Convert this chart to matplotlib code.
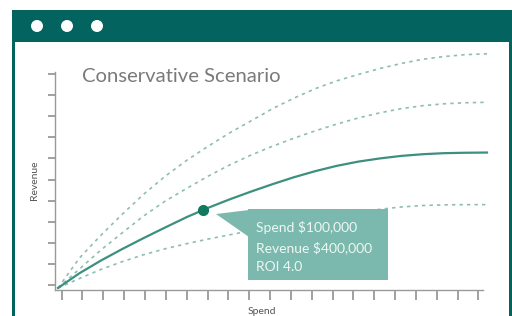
import numpy as np
import matplotlib
matplotlib.use("Agg")
import matplotlib.pyplot as plt
from matplotlib.patches import Rectangle, Circle, Polygon

# curves (spend units, revenue units)
spend = list(range(21))
rev_high = [0, 1.42, 2.5, 3.5, 4.45, 5.3, 6.05, 6.72, 7.35, 7.92, 8.5,
            9.0, 9.45, 9.82, 10.12, 10.4, 10.64, 10.84, 10.97, 11.06, 11.1]
rev_mid = [0, 0.9, 1.8, 2.62, 3.42, 4.12, 4.72, 5.3, 5.83, 6.3, 6.72,
           7.1, 7.45, 7.77, 8.06, 8.3, 8.5, 8.64, 8.73, 8.78, 8.8]
rev_base = [0, 0.7, 1.3, 1.85, 2.37, 2.87, 3.36, 3.8, 4.2, 4.57, 4.92,
            5.25, 5.54, 5.79, 5.99, 6.14, 6.26, 6.34, 6.39, 6.41, 6.42]
rev_low = [0, 0.45, 0.88, 1.25, 1.58, 1.86, 2.1, 2.32, 2.52, 2.72, 2.92,
           3.1, 3.28, 3.44, 3.6, 3.73, 3.84, 3.91, 3.94, 3.95, 3.95]

point_x, point_y = 6.76, 3.70
tip_lines = ["Spend $100,000", "Revenue $400,000", "ROI 4.0"]
title = "Conservative Scenario"

W, H = 512, 316
teal = "#02635f"
font = "Lato"

fig = plt.figure(figsize=(W / 100, H / 100), dpi=100)


def pixel_axes():
    a = fig.add_axes([0, 0, 1, 1])
    a.set_xlim(0, W)
    a.set_ylim(H, 0)
    a.axis("off")
    a.patch.set_alpha(0)
    return a


# window frame drawn in pixel coords
bg = pixel_axes()
bg.add_patch(Rectangle((12, 10), 500, 32, color=teal, lw=0))
bg.add_patch(Rectangle((12, 42), 3, H - 42, color=teal, lw=0))
bg.add_patch(Rectangle((509, 42), 3, H - 42, color=teal, lw=0))
for cx in [37, 67, 97]:
    bg.add_patch(Circle((cx, 26), 6, color="white", lw=0))

bg.text(82, 76, title, fontsize=14.6, color="#7a7a7a", family=font,
        va="center", ha="left")
bg.text(35, 180, "Revenue", fontsize=7.5, color="#555555", family=font,
        rotation=90, va="center", ha="center")
bg.text(262, 311, "Spend", fontsize=7.5, color="#555555", family=font,
        va="center", ha="center")

# plot area
x0, x1 = 55, 495
y0, y1 = 290, 45
ax = fig.add_axes([x0 / W, 1 - y0 / H, (x1 - x0) / W, (y0 - y1) / H])
ax.patch.set_alpha(0)
ax.set_xlim((x0 - 58) / 21.45, (x1 - 58) / 21.45)
ax.set_ylim((288 - y0) / 21.1, (288 - y1) / 21.1)

dash_col = "#8fbdb3"
ax.plot(spend, rev_high, color=dash_col, lw=1.2, ls=(0, (2, 2.5)))
ax.plot(spend, rev_mid, color=dash_col, lw=1.2, ls=(0, (2, 2.5)))
ax.plot(spend, rev_low, color=dash_col, lw=1.2, ls=(0, (2, 2.5)))
ax.plot(spend, rev_base, color="#3d8f80", lw=1.6)
ax.plot([point_x], [point_y], "o", color="#10795f", ms=7, zorder=5)

for s in ["top", "right"]:
    ax.spines[s].set_visible(False)
for s in ["left", "bottom"]:
    ax.spines[s].set_color("#9a9a9a")
    ax.spines[s].set_linewidth(1)
ax.spines["left"].set_bounds(ax.get_ylim()[0], 10.24)
ax.spines["bottom"].set_bounds(ax.get_xlim()[0], 19.8)

ax.set_xticks(np.linspace(0.17, 19.6, 21))
ax.set_yticks(np.linspace(0.14, 10.14, 11))
ax.set_xticklabels([])
ax.set_yticklabels([])
ax.tick_params(axis="x", length=7, width=1.4, color="#a0a0a0")
ax.tick_params(axis="y", length=5, width=1.4, color="#a0a0a0")

# tooltip on top of the lines
fg = pixel_axes()
box_col = "#7bb9ae"
fg.add_patch(Polygon([(216, 214), (249, 210), (249, 237)], closed=True,
                     color=box_col, lw=0))
fg.add_patch(Rectangle((248, 209), 140, 71, color=box_col, lw=0))
for i, t in enumerate(tip_lines):
    fg.text(256, 228 + i * 19.5, t, fontsize=10, color="#eef7f4",
            family=font, va="center", ha="left")

fig.savefig("out.png", dpi=100, facecolor="white")
